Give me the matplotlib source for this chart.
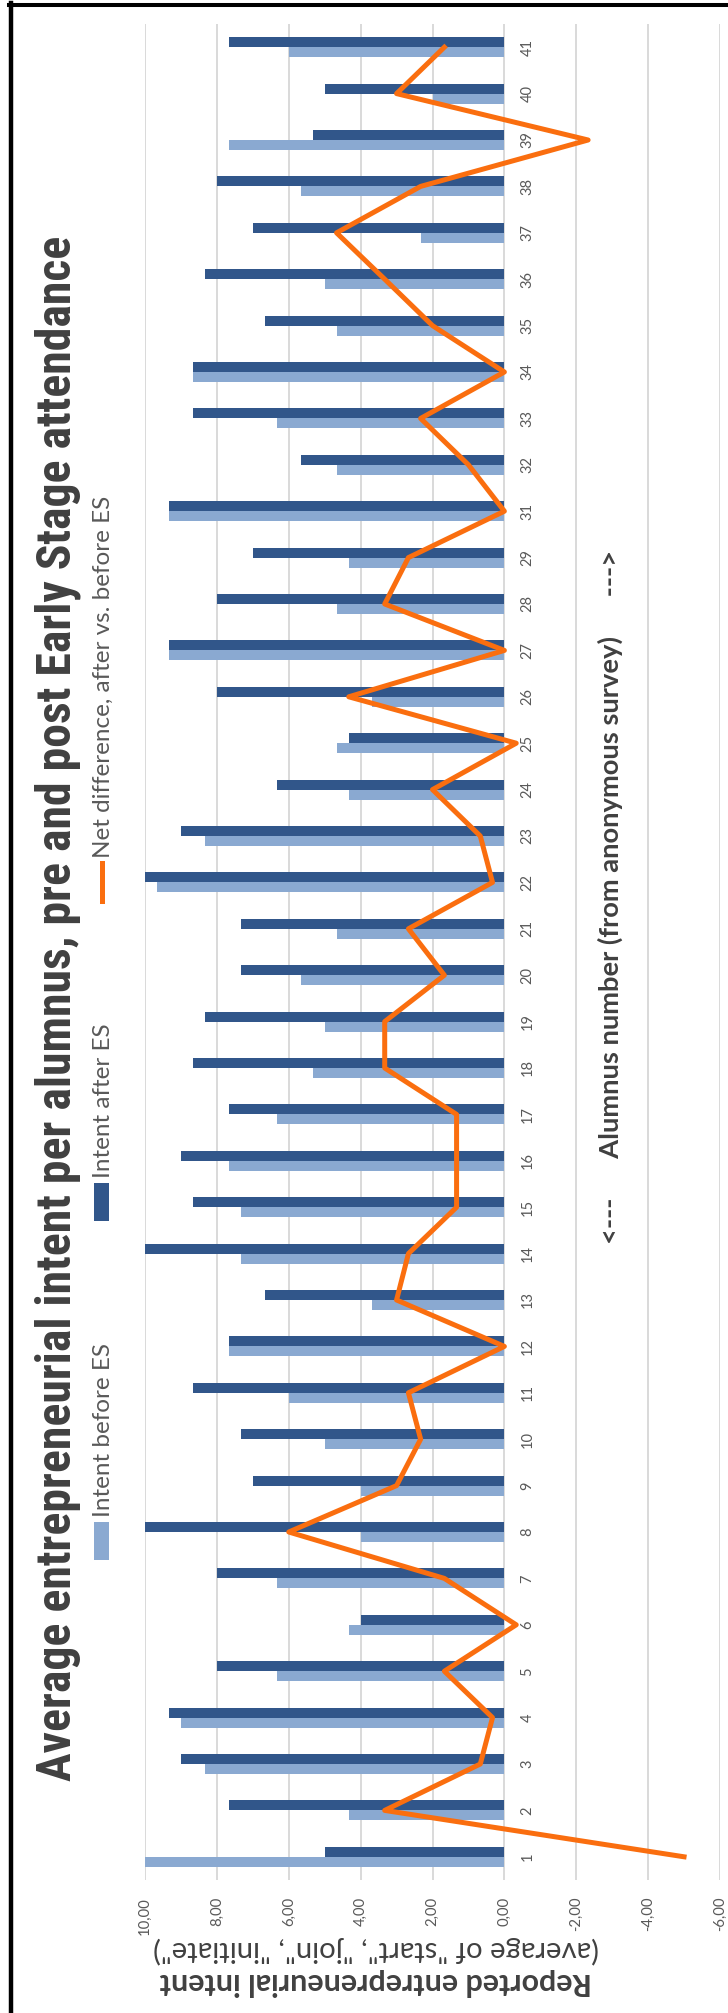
import matplotlib
matplotlib.use("Agg")
import matplotlib.pyplot as plt
import matplotlib.transforms as mtransforms
from matplotlib import font_manager
from matplotlib.font_manager import FontProperties
from matplotlib.patches import Rectangle
from matplotlib.lines import Line2D
import numpy as np

# ---- data -------------------------------------------------------------
alumni = ["1", "2", "3", "4", "5", "6", "7", "8", "9", "10",
          "11", "12", "13", "14", "15", "16", "17", "18", "19", "20",
          "21", "22", "23", "24", "25", "26", "27", "28", "29", "31",
          "32", "33", "34", "35", "36", "37", "38", "39", "40", "41"]

intent_before = [10.00, 4.33, 8.33, 9.00, 6.33, 4.33, 6.33, 4.00, 4.00, 5.00,
                 6.00, 7.67, 3.67, 7.33, 7.33, 7.67, 6.33, 5.33, 5.00, 5.67,
                 4.67, 9.67, 8.33, 4.33, 4.67, 3.67, 9.33, 4.67, 4.33, 9.33,
                 4.67, 6.33, 8.67, 4.67, 5.00, 2.33, 5.67, 7.67, 2.00, 6.00]

intent_after = [5.00, 7.67, 9.00, 9.33, 8.00, 4.00, 8.00, 10.00, 7.00, 7.33,
                8.67, 7.67, 6.67, 10.00, 8.67, 9.00, 7.67, 8.67, 8.33, 7.33,
                7.33, 10.00, 9.00, 6.33, 4.33, 8.00, 9.33, 8.00, 7.00, 9.33,
                5.67, 8.67, 8.67, 6.67, 8.33, 7.00, 8.00, 5.33, 5.00, 7.67]

net_difference = [-5.00, 3.33, 0.67, 0.33, 1.67, -0.33, 1.67, 6.00, 3.00, 2.33,
                  2.67, 0.00, 3.00, 2.67, 1.33, 1.33, 1.33, 3.33, 3.33, 1.67,
                  2.67, 0.33, 0.67, 2.00, -0.33, 4.33, 0.00, 3.33, 2.67, 0.00,
                  1.00, 2.33, 0.00, 2.00, 3.33, 4.67, 2.33, -2.33, 3.00, 1.67]

value_ticks = [10, 8, 6, 4, 2, 0, -2, -4, -6]
value_tick_labels = ["10,00", "8,00", "6,00", "4,00", "2,00", "0,00",
                     "-2,00", "-4,00", "-6,00"]

series_names = ["Intent before ES", "Intent after ES",
                "Net difference, after vs. before ES"]

title = ("Average entrepreneurial intent per alumnus, "
         "pre and post Early Stage attendance")
value_title = "Reported entrepreneurial intent"
value_subtitle = '(average of "start", "join", "initiate")'
category_title = "<---      Alumnus number (from anonymous survey)      --->"

# ---- style ------------------------------------------------------------
LIGHT = "#8AA9D1"
DARK = "#31568A"
ORANGE = "#FA6E0F"
GRID = "#D9D9D9"
TEXT_DARK = "#404040"
TEXT_MID = "#595959"

installed = {f.name for f in font_manager.fontManager.ttflist}


def pick(*families):
    for fam in families:
        if fam in installed:
            return fam
    return "DejaVu Sans"


def is_bold(entry):
    w = entry.weight
    if isinstance(w, str):
        return w in ("bold", "heavy", "black", "extra bold", "demibold",
                     "semibold", "demi")
    return w >= 600


def narrow_bold_title_font():
    """Prefer a narrow bold sans for the long title, else Lato Bold."""
    prefs = ["liberation sans narrow", "noto sans", "roboto",
             "open sans", "dejavu sans"]
    found = {}
    for f in font_manager.fontManager.ttflist:
        name = f.name.lower()
        style_hint = (f.fname.lower().rsplit("/", 1)[-1])
        condensed = ("narrow" in name or "condensed" in name
                     or f.stretch in ("condensed", "semi-condensed")
                     or "condensed" in style_hint)
        if not condensed or not is_bold(f):
            continue
        if any(bad in name or bad in style_hint
               for bad in ("mono", "extra", "ultra", "italic", "oblique")):
            continue
        for rank, p in enumerate(prefs):
            if name.startswith(p):
                found.setdefault(rank, f.fname)
    if found:
        return FontProperties(fname=found[min(found)], weight="bold")
    return FontProperties(family=pick("Lato", "Liberation Sans"),
                          weight="bold")


BODY_FONT = pick("Lato", "Open Sans", "DejaVu Sans")
TITLE_PROPS = narrow_bold_title_font()

W, H = 728, 2013
fig = plt.figure(figsize=(W / 100, H / 100), dpi=100)
fig.patch.set_facecolor("white")


def fx(x):
    return x / W


def fy(y):
    return 1 - y / H


# plot area: value axis runs right-to-left, alumni bottom-to-top
ax = fig.add_axes([fx(145), fy(1880), (720 - 145) / W, (1880 - 24) / H])
pos = np.arange(1, len(alumni) + 1)
bar_h = 0.215
ax.barh(pos - bar_h / 2, intent_before, height=bar_h, color=LIGHT, zorder=2)
ax.barh(pos + bar_h / 2, intent_after, height=bar_h, color=DARK, zorder=2)
ax.plot(net_difference, pos, color=ORANGE, lw=3.6, zorder=3)

ax.set_xlim(10, -6)
ax.set_ylim(0.5, len(alumni) + 0.5)
ax.set_xticks(value_ticks)
ax.set_xticklabels(value_tick_labels, rotation=90, rotation_mode="anchor",
                   ha="right", va="center", fontsize=10.7,
                   family=BODY_FONT, color=TEXT_MID)
ax.tick_params(axis="x", length=0, pad=12.2)
ax.set_yticks([])
for s in ax.spines.values():
    s.set_visible(False)
ax.grid(axis="x", color=GRID, lw=1.4, zorder=0)
ax.set_axisbelow(True)

# alumnus labels sit just to the right of the zero line
label_tr = mtransforms.offset_copy(ax.transData, fig=fig, x=16, y=0,
                                   units="dots")
for p, lab in zip(pos, alumni):
    ax.text(0, p, lab, transform=label_tr, rotation=90,
            rotation_mode="anchor", ha="center", va="top",
            fontsize=10.5, family=BODY_FONT, color=TEXT_MID)

renderer = fig.canvas.get_renderer()


def fit(t, target, along="y"):
    for _ in range(4):
        bb = t.get_window_extent(renderer)
        cur = bb.height if along == "y" else bb.width
        t.set_fontsize(t.get_fontsize() * target / cur)


# chart title
t_title = fig.text(fx(71), fy(1008.5), title, rotation=90,
                   rotation_mode="anchor", ha="center", va="baseline",
                   fontproperties=TITLE_PROPS, color=TEXT_DARK)
t_title.set_fontsize(24)
fit(t_title, 1543)

# value axis title (two lines)
t_v1 = fig.text(fx(376), fy(1973), value_title, rotation=180,
                rotation_mode="anchor", ha="center", va="baseline",
                fontweight="bold", family=BODY_FONT, color=TEXT_DARK,
                fontsize=16)
fit(t_v1, 432, along="x")
t_v2 = fig.text(fx(376), fy(1941), value_subtitle, rotation=180,
                rotation_mode="anchor", ha="center", va="baseline",
                family=BODY_FONT, color=TEXT_DARK, fontsize=16)
fit(t_v2, 446, along="x")

# category axis title
t_c = fig.text(fx(619), fy(896.5), category_title, rotation=90,
               rotation_mode="anchor", ha="center", va="baseline",
               fontweight="bold", family=BODY_FONT, color=TEXT_DARK,
               fontsize=16)
fit(t_c, 695)

# legend
legend_texts = [fig.text(fx(110), fy(1500), name, rotation=90,
                         rotation_mode="anchor", ha="left", va="baseline",
                         family=BODY_FONT, color=TEXT_MID, fontsize=16)
                for name in series_names]
fit(legend_texts[0], 174)
for t in legend_texts[1:]:
    t.set_fontsize(legend_texts[0].get_fontsize())

key_len, key_gap, entry_gap = 38, 5, 122
y_cursor = 1560
key_styles = [("bar", LIGHT), ("bar", DARK), ("line", ORANGE)]
for t, (kind, col) in zip(legend_texts, key_styles):
    if kind == "bar":
        fig.add_artist(Rectangle((fx(94), fy(y_cursor)), 15 / W, key_len / H,
                                 transform=fig.transFigure, color=col,
                                 lw=0))
    else:
        fig.add_artist(Line2D([fx(101.5), fx(101.5)],
                              [fy(y_cursor), fy(y_cursor - key_len)],
                              transform=fig.transFigure, color=col, lw=3.6))
    anchor = y_cursor - key_len - key_gap
    t.set_position((fx(110), fy(anchor)))
    length = t.get_window_extent(renderer).height
    y_cursor = anchor - length - entry_gap

# frame lines along the left and top edges
fig.add_artist(Line2D([fx(10.5), fx(10.5)], [0, fy(2.5)],
                      transform=fig.transFigure, color="black", lw=3.2))
fig.add_artist(Line2D([fx(8.5), 1], [fy(4.5), fy(4.5)],
                      transform=fig.transFigure, color="black", lw=2.9))

fig.savefig("out.png", dpi=100, facecolor="white")
